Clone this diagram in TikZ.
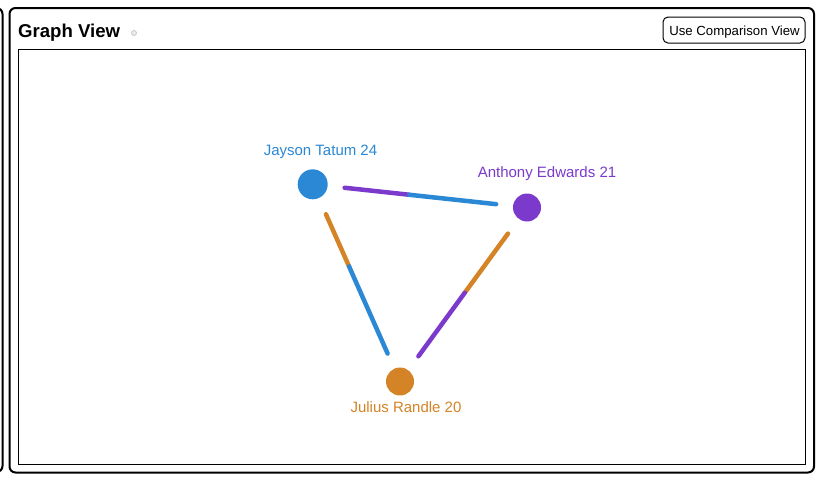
\documentclass[tikz,border=0pt]{standalone}
\usepackage{fontspec}
\setmainfont{Liberation Sans}
\usetikzlibrary{calc}
\definecolor{cblue}{RGB}{42,136,213}
\definecolor{cpurple}{RGB}{123,58,204}
\definecolor{corange}{RGB}{212,131,38}
\definecolor{cicon}{RGB}{235,235,235}
\tikzset{
  frame/.style={draw=black, line width=2pt, rounded corners=6pt},
  player/.style={circle, inner sep=0pt, draw=none},
  plabel/.style={anchor=base, inner sep=0pt, font=\fontsize{15}{18}\selectfont},
  edge/.style={line width=4.5pt, line cap=round},
}
\begin{document}
\begin{tikzpicture}[x=1pt,y=-1pt]
\useasboundingbox (0,0) rectangle (820,477);
\clip (0,0) rectangle (820,477);
\fill[white] (0,0) rectangle (820,477);
% outer container edge
\draw[frame] (-30,8) rectangle (2.5,472);
% main panel
\draw[frame] (9.5,8) rectangle (814,472.5);
% inner graph area
\draw[black, line width=1pt] (18.5,49.5) rectangle (805,464);
% title
\node[anchor=base west, inner sep=0pt, font=\fontsize{18.6}{22}\selectfont\bfseries] (title) at (18,37) {Graph View};
\node[circle, inner sep=0pt, minimum size=5pt, fill=cicon, draw=gray!55, line width=0.5pt] (icon) at (134,33) {};
% button
\node[draw=black, line width=1pt, rounded corners=5pt, minimum width=142pt, minimum height=26pt, inner sep=0pt] (btn) at (734,30) {};
\node[anchor=base, inner sep=0pt, font=\fontsize{13.2}{16}\selectfont] (btntext) at (734.5,35) {Use Comparison View};
% players
\node[player, fill=cblue, minimum size=30pt] (J) at (312.7,184.3) {};
\node[player, fill=cpurple, minimum size=28pt] (E) at (527,207.5) {};
\node[player, fill=corange, minimum size=28pt] (R) at (400,381.5) {};
\node[plabel, text=cblue] (Jl) at (320.5,155) {Jayson Tatum 24};
\node[plabel, text=cpurple] (El) at (547,177.7) {Anthony Edwards 21};
\node[plabel, text=corange] (Rl) at (406,412.3) {Julius Randle 20};
% edges (each half coloured with the other end's colour)
\draw[edge, cpurple] ($(J.center)!0.149!(E.center)$) -- ($(J.center)!0.451!(E.center)$);
\draw[edge, cblue] ($(J.center)!0.451!(E.center)$) -- ($(J.center)!0.856!(E.center)$);
\draw[edge, corange] ($(J.center)!0.152!(R.center)$) -- ($(J.center)!0.416!(R.center)$);
\draw[edge, cblue] ($(J.center)!0.416!(R.center)$) -- ($(J.center)!0.858!(R.center)$);
\draw[edge, corange] ($(E.center)!0.150!(R.center)$) -- ($(E.center)!0.490!(R.center)$);
\draw[edge, cpurple] ($(E.center)!0.490!(R.center)$) -- ($(E.center)!0.855!(R.center)$);
\end{tikzpicture}
\end{document}
